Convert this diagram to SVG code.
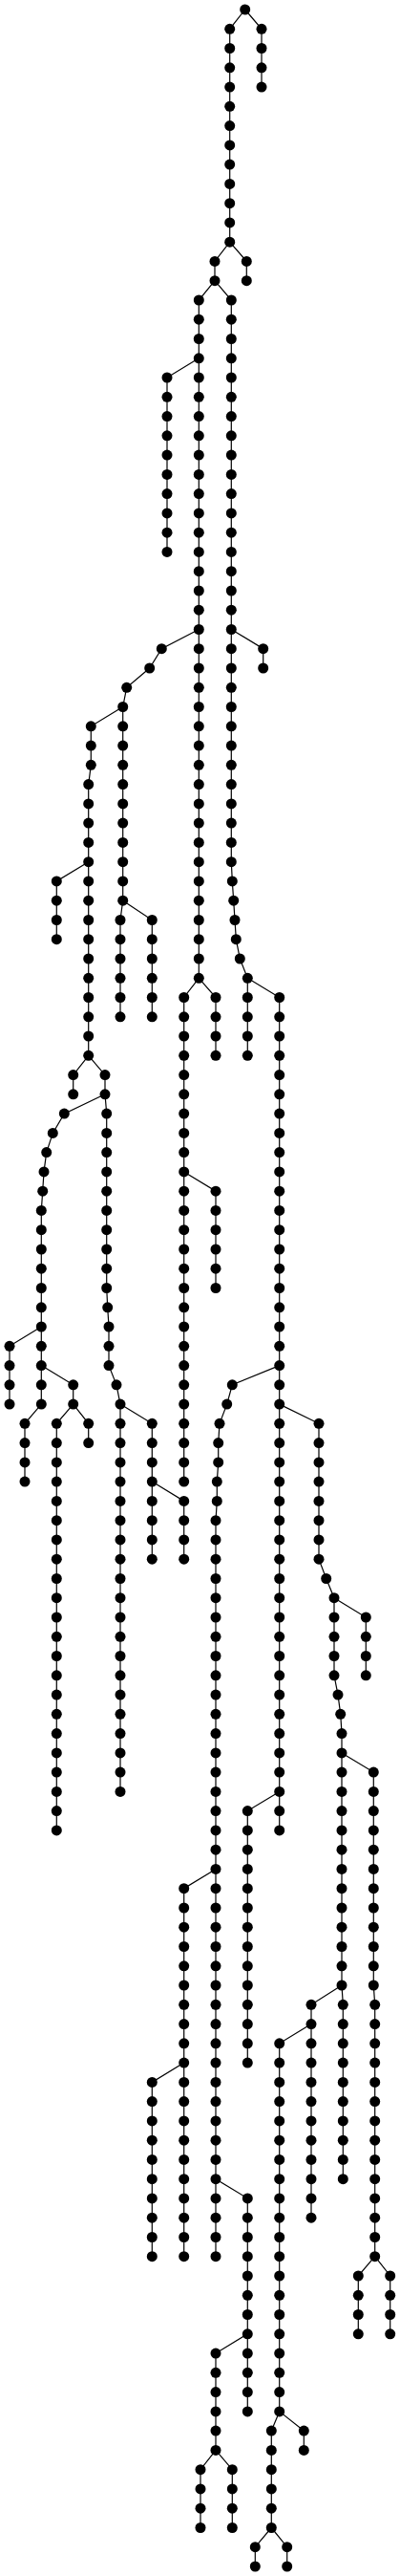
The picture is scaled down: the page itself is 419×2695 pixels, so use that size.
<svg xmlns="http://www.w3.org/2000/svg" width="419" height="2695" viewBox="0 0 419 2695">
<style>
.bg{fill:#fff}
.edges polyline{fill:none;stroke:#000;stroke-width:1.2}
circle{fill:#000}
</style>
<rect class="bg" x="0" y="0" width="419" height="2695"/>
<g class="edges" id="connectors">
<polyline points="256.7,10 240.7,30.3 240.7,253.2"/>
<polyline points="256.7,10 274,30.3 274,91.1"/>
<polyline points="240.7,253.2 225,273.4 225,293.7"/>
<polyline points="240.7,253.2 258.3,273.4 258.3,293.7"/>
<polyline points="225,293.7 208.3,314 208.3,1023.3"/>
<polyline points="225,293.7 242.3,314 242.3,901.7 243.3,921.9 244.7,942.2 246,962.5 247.3,982.7 251.3,1003 259.3,1023.3"/>
<polyline points="208.3,374.8 175,395 175,577.4"/>
<polyline points="208.3,658.5 169.3,678.7 156.7,699 132.7,719.3 128.7,739.5"/>
<polyline points="242.3,658.5 275.7,678.7 275.7,699"/>
<polyline points="128.7,739.5 95.3,759.8 95.3,800.3 92.7,820.6 92.7,1104.3"/>
<polyline points="128.7,739.5 128.7,942.2"/>
<polyline points="92.7,901.7 59.3,921.9 59.3,982.7"/>
<polyline points="128.7,942.2 126,962.5 126,1063.8"/>
<polyline points="128.7,942.2 159.3,962.5 159.3,1063.8"/>
<polyline points="208.3,1023.3 192.7,1043.5 192.7,1550.1"/>
<polyline points="208.3,1023.3 226,1043.5 226,1104.3"/>
<polyline points="259.3,1023.3 259.3,1104.3"/>
<polyline points="259.3,1023.3 292.7,1043.5 292.7,1914.9"/>
<polyline points="92.7,1104.3 76.7,1124.6 76.7,1144.8"/>
<polyline points="92.7,1104.3 110,1124.6 110,1144.8 111.7,1165.1 111.7,1347.5 112.7,1367.8 114,1388 114,1428.6 122,1448.8 126,1469.1"/>
<polyline points="110,1144.8 67.3,1165.1 55.3,1185.4 48.7,1205.6 46,1225.9 44.7,1246.2 43.3,1266.4 43.3,1469.1 26,1489.3 26,1550.1"/>
<polyline points="43.3,1388 10,1408.3 10,1469.1"/>
<polyline points="43.3,1428.6 76.7,1448.8 76.7,1469.1"/>
<polyline points="76.7,1469.1 59.3,1489.3 59.3,1914.9"/>
<polyline points="76.7,1469.1 92.7,1489.3 92.7,1509.6"/>
<polyline points="192.7,1225.9 226,1246.2 226,1347.5"/>
<polyline points="126,1469.1 126,1874.4"/>
<polyline points="126,1469.1 159.3,1489.3 159.3,1631.2"/>
<polyline points="159.3,1550.1 192.7,1570.4 192.7,1631.2"/>
<polyline points="292.7,1428.6 243.3,1448.8 237.7,1469.1 230,1489.3 228.7,1509.6 228.7,1529.9 227.3,1550.1 227.3,1570.4 226,1590.7 226,2360.7"/>
<polyline points="292.7,1469.1 334,1489.3 334,1631.2 341.7,1651.5 350,1671.7 350,1752.8 354,1773.1 356.7,1793.3 358,1813.6 358,2077 359.3,2097.3 359.3,2279.7"/>
<polyline points="350,1671.7 383.3,1692 383.3,1752.8"/>
<polyline points="358,1833.9 391.3,1854.1 391.3,2077 392.7,2097.3 392.7,2360.7"/>
<polyline points="292.7,1874.4 259.3,1894.6 259.3,2158.1"/>
<polyline points="226,1955.4 192.7,1975.7 192.7,2360.7"/>
<polyline points="192.7,2158.1 159.3,2178.4 159.3,2360.7"/>
<polyline points="226,2279.7 259.3,2299.9 259.3,2522.9"/>
<polyline points="259.3,2441.8 226,2462.1 226,2563.4"/>
<polyline points="226,2563.4 210,2583.7 210,2644.5"/>
<polyline points="226,2563.4 243.3,2583.7 243.3,2644.5"/>
<polyline points="358,2077 326,2097.3 326,2320.2"/>
<polyline points="326,2117.6 292.7,2137.8 292.7,2522.9"/>
<polyline points="292.7,2522.9 284.3,2543.1 284.3,2644.5"/>
<polyline points="292.7,2522.9 318.3,2543.1 318.3,2563.4"/>
<polyline points="284.3,2644.5 267.3,2664.7 267.3,2685"/>
<polyline points="284.3,2644.5 300.7,2664.7 300.7,2685"/>
<polyline points="392.7,2360.7 375.3,2381 375.3,2441.8"/>
<polyline points="392.7,2360.7 408.7,2381 408.7,2441.8"/>
</g>
<g id="nodes">
<g id="root"><circle cx="256.7" cy="10" r="5.5"/></g>
<g id="a1"><circle cx="240.7" cy="30.3" r="5.5"/></g>
<g id="a2"><circle cx="240.7" cy="50.5" r="5.5"/></g>
<g id="a3"><circle cx="240.7" cy="70.8" r="5.5"/></g>
<g id="a4"><circle cx="240.7" cy="91.1" r="5.5"/></g>
<g id="a5"><circle cx="240.7" cy="111.3" r="5.5"/></g>
<g id="a6"><circle cx="240.7" cy="131.6" r="5.5"/></g>
<g id="a7"><circle cx="240.7" cy="151.9" r="5.5"/></g>
<g id="a8"><circle cx="240.7" cy="172.1" r="5.5"/></g>
<g id="a9"><circle cx="240.7" cy="192.4" r="5.5"/></g>
<g id="a10"><circle cx="240.7" cy="212.7" r="5.5"/></g>
<g id="a11"><circle cx="240.7" cy="232.9" r="5.5"/></g>
<g id="a12"><circle cx="240.7" cy="253.2" r="5.5"/></g>
<g id="b1"><circle cx="274" cy="30.3" r="5.5"/></g>
<g id="b2"><circle cx="274" cy="50.5" r="5.5"/></g>
<g id="b3"><circle cx="274" cy="70.8" r="5.5"/></g>
<g id="b4"><circle cx="274" cy="91.1" r="5.5"/></g>
<g id="c13"><circle cx="225" cy="273.4" r="5.5"/></g>
<g id="c14"><circle cx="225" cy="293.7" r="5.5"/></g>
<g id="d13"><circle cx="258.3" cy="273.4" r="5.5"/></g>
<g id="d14"><circle cx="258.3" cy="293.7" r="5.5"/></g>
<g id="e15"><circle cx="208.3" cy="314" r="5.5"/></g>
<g id="e16"><circle cx="208.3" cy="334.2" r="5.5"/></g>
<g id="e17"><circle cx="208.3" cy="354.5" r="5.5"/></g>
<g id="e18"><circle cx="208.3" cy="374.8" r="5.5"/></g>
<g id="e19"><circle cx="208.3" cy="395" r="5.5"/></g>
<g id="e20"><circle cx="208.3" cy="415.3" r="5.5"/></g>
<g id="e21"><circle cx="208.3" cy="435.6" r="5.5"/></g>
<g id="e22"><circle cx="208.3" cy="455.8" r="5.5"/></g>
<g id="e23"><circle cx="208.3" cy="476.1" r="5.5"/></g>
<g id="e24"><circle cx="208.3" cy="496.4" r="5.5"/></g>
<g id="e25"><circle cx="208.3" cy="516.6" r="5.5"/></g>
<g id="e26"><circle cx="208.3" cy="536.9" r="5.5"/></g>
<g id="e27"><circle cx="208.3" cy="557.2" r="5.5"/></g>
<g id="e28"><circle cx="208.3" cy="577.4" r="5.5"/></g>
<g id="e29"><circle cx="208.3" cy="597.7" r="5.5"/></g>
<g id="e30"><circle cx="208.3" cy="618" r="5.5"/></g>
<g id="e31"><circle cx="208.3" cy="638.2" r="5.5"/></g>
<g id="e32"><circle cx="208.3" cy="658.5" r="5.5"/></g>
<g id="e33"><circle cx="208.3" cy="678.7" r="5.5"/></g>
<g id="e34"><circle cx="208.3" cy="699" r="5.5"/></g>
<g id="e35"><circle cx="208.3" cy="719.3" r="5.5"/></g>
<g id="e36"><circle cx="208.3" cy="739.5" r="5.5"/></g>
<g id="e37"><circle cx="208.3" cy="759.8" r="5.5"/></g>
<g id="e38"><circle cx="208.3" cy="780.1" r="5.5"/></g>
<g id="e39"><circle cx="208.3" cy="800.3" r="5.5"/></g>
<g id="e40"><circle cx="208.3" cy="820.6" r="5.5"/></g>
<g id="e41"><circle cx="208.3" cy="840.9" r="5.5"/></g>
<g id="e42"><circle cx="208.3" cy="861.1" r="5.5"/></g>
<g id="e43"><circle cx="208.3" cy="881.4" r="5.5"/></g>
<g id="e44"><circle cx="208.3" cy="901.7" r="5.5"/></g>
<g id="e45"><circle cx="208.3" cy="921.9" r="5.5"/></g>
<g id="e46"><circle cx="208.3" cy="942.2" r="5.5"/></g>
<g id="e47"><circle cx="208.3" cy="962.5" r="5.5"/></g>
<g id="e48"><circle cx="208.3" cy="982.7" r="5.5"/></g>
<g id="e49"><circle cx="208.3" cy="1003" r="5.5"/></g>
<g id="e50"><circle cx="208.3" cy="1023.3" r="5.5"/></g>
<g id="f15"><circle cx="242.3" cy="314" r="5.5"/></g>
<g id="f16"><circle cx="242.3" cy="334.2" r="5.5"/></g>
<g id="f17"><circle cx="242.3" cy="354.5" r="5.5"/></g>
<g id="f18"><circle cx="242.3" cy="374.8" r="5.5"/></g>
<g id="f19"><circle cx="242.3" cy="395" r="5.5"/></g>
<g id="f20"><circle cx="242.3" cy="415.3" r="5.5"/></g>
<g id="f21"><circle cx="242.3" cy="435.6" r="5.5"/></g>
<g id="f22"><circle cx="242.3" cy="455.8" r="5.5"/></g>
<g id="f23"><circle cx="242.3" cy="476.1" r="5.5"/></g>
<g id="f24"><circle cx="242.3" cy="496.4" r="5.5"/></g>
<g id="f25"><circle cx="242.3" cy="516.6" r="5.5"/></g>
<g id="f26"><circle cx="242.3" cy="536.9" r="5.5"/></g>
<g id="f27"><circle cx="242.3" cy="557.2" r="5.5"/></g>
<g id="f28"><circle cx="242.3" cy="577.4" r="5.5"/></g>
<g id="f29"><circle cx="242.3" cy="597.7" r="5.5"/></g>
<g id="f30"><circle cx="242.3" cy="618" r="5.5"/></g>
<g id="f31"><circle cx="242.3" cy="638.2" r="5.5"/></g>
<g id="f32"><circle cx="242.3" cy="658.5" r="5.5"/></g>
<g id="f33"><circle cx="242.3" cy="678.7" r="5.5"/></g>
<g id="f34"><circle cx="242.3" cy="699" r="5.5"/></g>
<g id="f35"><circle cx="242.3" cy="719.3" r="5.5"/></g>
<g id="f36"><circle cx="242.3" cy="739.5" r="5.5"/></g>
<g id="f37"><circle cx="242.3" cy="759.8" r="5.5"/></g>
<g id="f38"><circle cx="242.3" cy="780.1" r="5.5"/></g>
<g id="f39"><circle cx="242.3" cy="800.3" r="5.5"/></g>
<g id="f40"><circle cx="242.3" cy="820.6" r="5.5"/></g>
<g id="f41"><circle cx="242.3" cy="840.9" r="5.5"/></g>
<g id="f42"><circle cx="242.3" cy="861.1" r="5.5"/></g>
<g id="f43"><circle cx="242.3" cy="881.4" r="5.5"/></g>
<g id="f44"><circle cx="242.3" cy="901.7" r="5.5"/></g>
<g id="f45"><circle cx="243.3" cy="921.9" r="5.5"/></g>
<g id="f46"><circle cx="244.7" cy="942.2" r="5.5"/></g>
<g id="f47"><circle cx="246" cy="962.5" r="5.5"/></g>
<g id="f48"><circle cx="247.3" cy="982.7" r="5.5"/></g>
<g id="f49"><circle cx="251.3" cy="1003" r="5.5"/></g>
<g id="f50"><circle cx="259.3" cy="1023.3" r="5.5"/></g>
<g id="g19"><circle cx="175" cy="395" r="5.5"/></g>
<g id="g20"><circle cx="175" cy="415.3" r="5.5"/></g>
<g id="g21"><circle cx="175" cy="435.6" r="5.5"/></g>
<g id="g22"><circle cx="175" cy="455.8" r="5.5"/></g>
<g id="g23"><circle cx="175" cy="476.1" r="5.5"/></g>
<g id="g24"><circle cx="175" cy="496.4" r="5.5"/></g>
<g id="g25"><circle cx="175" cy="516.6" r="5.5"/></g>
<g id="g26"><circle cx="175" cy="536.9" r="5.5"/></g>
<g id="g27"><circle cx="175" cy="557.2" r="5.5"/></g>
<g id="g28"><circle cx="175" cy="577.4" r="5.5"/></g>
<g id="h33"><circle cx="169.3" cy="678.7" r="5.5"/></g>
<g id="h34"><circle cx="156.7" cy="699" r="5.5"/></g>
<g id="h35"><circle cx="132.7" cy="719.3" r="5.5"/></g>
<g id="h36"><circle cx="128.7" cy="739.5" r="5.5"/></g>
<g id="i33"><circle cx="275.7" cy="678.7" r="5.5"/></g>
<g id="i34"><circle cx="275.7" cy="699" r="5.5"/></g>
<g id="j37"><circle cx="95.3" cy="759.8" r="5.5"/></g>
<g id="j38"><circle cx="95.3" cy="780.1" r="5.5"/></g>
<g id="j39"><circle cx="95.3" cy="800.3" r="5.5"/></g>
<g id="j40"><circle cx="92.7" cy="820.6" r="5.5"/></g>
<g id="j41"><circle cx="92.7" cy="840.9" r="5.5"/></g>
<g id="j42"><circle cx="92.7" cy="861.1" r="5.5"/></g>
<g id="j43"><circle cx="92.7" cy="881.4" r="5.5"/></g>
<g id="j44"><circle cx="92.7" cy="901.7" r="5.5"/></g>
<g id="j45"><circle cx="92.7" cy="921.9" r="5.5"/></g>
<g id="j46"><circle cx="92.7" cy="942.2" r="5.5"/></g>
<g id="j47"><circle cx="92.7" cy="962.5" r="5.5"/></g>
<g id="j48"><circle cx="92.7" cy="982.7" r="5.5"/></g>
<g id="j49"><circle cx="92.7" cy="1003" r="5.5"/></g>
<g id="j50"><circle cx="92.7" cy="1023.3" r="5.5"/></g>
<g id="j51"><circle cx="92.7" cy="1043.5" r="5.5"/></g>
<g id="j52"><circle cx="92.7" cy="1063.8" r="5.5"/></g>
<g id="j53"><circle cx="92.7" cy="1084" r="5.5"/></g>
<g id="j54"><circle cx="92.7" cy="1104.3" r="5.5"/></g>
<g id="k37"><circle cx="128.7" cy="759.8" r="5.5"/></g>
<g id="k38"><circle cx="128.7" cy="780.1" r="5.5"/></g>
<g id="k39"><circle cx="128.7" cy="800.3" r="5.5"/></g>
<g id="k40"><circle cx="128.7" cy="820.6" r="5.5"/></g>
<g id="k41"><circle cx="128.7" cy="840.9" r="5.5"/></g>
<g id="k42"><circle cx="128.7" cy="861.1" r="5.5"/></g>
<g id="k43"><circle cx="128.7" cy="881.4" r="5.5"/></g>
<g id="k44"><circle cx="128.7" cy="901.7" r="5.5"/></g>
<g id="k45"><circle cx="128.7" cy="921.9" r="5.5"/></g>
<g id="k46"><circle cx="128.7" cy="942.2" r="5.5"/></g>
<g id="l45"><circle cx="59.3" cy="921.9" r="5.5"/></g>
<g id="l46"><circle cx="59.3" cy="942.2" r="5.5"/></g>
<g id="l47"><circle cx="59.3" cy="962.5" r="5.5"/></g>
<g id="l48"><circle cx="59.3" cy="982.7" r="5.5"/></g>
<g id="ka47"><circle cx="126" cy="962.5" r="5.5"/></g>
<g id="ka48"><circle cx="126" cy="982.7" r="5.5"/></g>
<g id="ka49"><circle cx="126" cy="1003" r="5.5"/></g>
<g id="ka50"><circle cx="126" cy="1023.3" r="5.5"/></g>
<g id="ka51"><circle cx="126" cy="1043.5" r="5.5"/></g>
<g id="ka52"><circle cx="126" cy="1063.8" r="5.5"/></g>
<g id="kb47"><circle cx="159.3" cy="962.5" r="5.5"/></g>
<g id="kb48"><circle cx="159.3" cy="982.7" r="5.5"/></g>
<g id="kb49"><circle cx="159.3" cy="1003" r="5.5"/></g>
<g id="kb50"><circle cx="159.3" cy="1023.3" r="5.5"/></g>
<g id="kb51"><circle cx="159.3" cy="1043.5" r="5.5"/></g>
<g id="kb52"><circle cx="159.3" cy="1063.8" r="5.5"/></g>
<g id="m51"><circle cx="192.7" cy="1043.5" r="5.5"/></g>
<g id="m52"><circle cx="192.7" cy="1063.8" r="5.5"/></g>
<g id="m53"><circle cx="192.7" cy="1084" r="5.5"/></g>
<g id="m54"><circle cx="192.7" cy="1104.3" r="5.5"/></g>
<g id="m55"><circle cx="192.7" cy="1124.6" r="5.5"/></g>
<g id="m56"><circle cx="192.7" cy="1144.8" r="5.5"/></g>
<g id="m57"><circle cx="192.7" cy="1165.1" r="5.5"/></g>
<g id="m58"><circle cx="192.7" cy="1185.4" r="5.5"/></g>
<g id="m59"><circle cx="192.7" cy="1205.6" r="5.5"/></g>
<g id="m60"><circle cx="192.7" cy="1225.9" r="5.5"/></g>
<g id="m61"><circle cx="192.7" cy="1246.2" r="5.5"/></g>
<g id="m62"><circle cx="192.7" cy="1266.4" r="5.5"/></g>
<g id="m63"><circle cx="192.7" cy="1286.7" r="5.5"/></g>
<g id="m64"><circle cx="192.7" cy="1307" r="5.5"/></g>
<g id="m65"><circle cx="192.7" cy="1327.2" r="5.5"/></g>
<g id="m66"><circle cx="192.7" cy="1347.5" r="5.5"/></g>
<g id="m67"><circle cx="192.7" cy="1367.8" r="5.5"/></g>
<g id="m68"><circle cx="192.7" cy="1388" r="5.5"/></g>
<g id="m69"><circle cx="192.7" cy="1408.3" r="5.5"/></g>
<g id="m70"><circle cx="192.7" cy="1428.6" r="5.5"/></g>
<g id="m71"><circle cx="192.7" cy="1448.8" r="5.5"/></g>
<g id="m72"><circle cx="192.7" cy="1469.1" r="5.5"/></g>
<g id="m73"><circle cx="192.7" cy="1489.3" r="5.5"/></g>
<g id="m74"><circle cx="192.7" cy="1509.6" r="5.5"/></g>
<g id="m75"><circle cx="192.7" cy="1529.9" r="5.5"/></g>
<g id="m76"><circle cx="192.7" cy="1550.1" r="5.5"/></g>
<g id="n51"><circle cx="226" cy="1043.5" r="5.5"/></g>
<g id="n52"><circle cx="226" cy="1063.8" r="5.5"/></g>
<g id="n53"><circle cx="226" cy="1084" r="5.5"/></g>
<g id="n54"><circle cx="226" cy="1104.3" r="5.5"/></g>
<g id="o51"><circle cx="259.3" cy="1043.5" r="5.5"/></g>
<g id="o52"><circle cx="259.3" cy="1063.8" r="5.5"/></g>
<g id="o53"><circle cx="259.3" cy="1084" r="5.5"/></g>
<g id="o54"><circle cx="259.3" cy="1104.3" r="5.5"/></g>
<g id="p51"><circle cx="292.7" cy="1043.5" r="5.5"/></g>
<g id="p52"><circle cx="292.7" cy="1063.8" r="5.5"/></g>
<g id="p53"><circle cx="292.7" cy="1084" r="5.5"/></g>
<g id="p54"><circle cx="292.7" cy="1104.3" r="5.5"/></g>
<g id="p55"><circle cx="292.7" cy="1124.6" r="5.5"/></g>
<g id="p56"><circle cx="292.7" cy="1144.8" r="5.5"/></g>
<g id="p57"><circle cx="292.7" cy="1165.1" r="5.5"/></g>
<g id="p58"><circle cx="292.7" cy="1185.4" r="5.5"/></g>
<g id="p59"><circle cx="292.7" cy="1205.6" r="5.5"/></g>
<g id="p60"><circle cx="292.7" cy="1225.9" r="5.5"/></g>
<g id="p61"><circle cx="292.7" cy="1246.2" r="5.5"/></g>
<g id="p62"><circle cx="292.7" cy="1266.4" r="5.5"/></g>
<g id="p63"><circle cx="292.7" cy="1286.7" r="5.5"/></g>
<g id="p64"><circle cx="292.7" cy="1307" r="5.5"/></g>
<g id="p65"><circle cx="292.7" cy="1327.2" r="5.5"/></g>
<g id="p66"><circle cx="292.7" cy="1347.5" r="5.5"/></g>
<g id="p67"><circle cx="292.7" cy="1367.8" r="5.5"/></g>
<g id="p68"><circle cx="292.7" cy="1388" r="5.5"/></g>
<g id="p69"><circle cx="292.7" cy="1408.3" r="5.5"/></g>
<g id="p70"><circle cx="292.7" cy="1428.6" r="5.5"/></g>
<g id="p71"><circle cx="292.7" cy="1448.8" r="5.5"/></g>
<g id="p72"><circle cx="292.7" cy="1469.1" r="5.5"/></g>
<g id="p73"><circle cx="292.7" cy="1489.3" r="5.5"/></g>
<g id="p74"><circle cx="292.7" cy="1509.6" r="5.5"/></g>
<g id="p75"><circle cx="292.7" cy="1529.9" r="5.5"/></g>
<g id="p76"><circle cx="292.7" cy="1550.1" r="5.5"/></g>
<g id="p77"><circle cx="292.7" cy="1570.4" r="5.5"/></g>
<g id="p78"><circle cx="292.7" cy="1590.7" r="5.5"/></g>
<g id="p79"><circle cx="292.7" cy="1610.9" r="5.5"/></g>
<g id="p80"><circle cx="292.7" cy="1631.2" r="5.5"/></g>
<g id="p81"><circle cx="292.7" cy="1651.5" r="5.5"/></g>
<g id="p82"><circle cx="292.7" cy="1671.7" r="5.5"/></g>
<g id="p83"><circle cx="292.7" cy="1692" r="5.5"/></g>
<g id="p84"><circle cx="292.7" cy="1712.3" r="5.5"/></g>
<g id="p85"><circle cx="292.7" cy="1732.5" r="5.5"/></g>
<g id="p86"><circle cx="292.7" cy="1752.8" r="5.5"/></g>
<g id="p87"><circle cx="292.7" cy="1773.1" r="5.5"/></g>
<g id="p88"><circle cx="292.7" cy="1793.3" r="5.5"/></g>
<g id="p89"><circle cx="292.7" cy="1813.6" r="5.5"/></g>
<g id="p90"><circle cx="292.7" cy="1833.9" r="5.5"/></g>
<g id="p91"><circle cx="292.7" cy="1854.1" r="5.5"/></g>
<g id="p92"><circle cx="292.7" cy="1874.4" r="5.5"/></g>
<g id="p93"><circle cx="292.7" cy="1894.6" r="5.5"/></g>
<g id="p94"><circle cx="292.7" cy="1914.9" r="5.5"/></g>
<g id="q55"><circle cx="76.7" cy="1124.6" r="5.5"/></g>
<g id="q56"><circle cx="76.7" cy="1144.8" r="5.5"/></g>
<g id="s55"><circle cx="110" cy="1124.6" r="5.5"/></g>
<g id="s56"><circle cx="110" cy="1144.8" r="5.5"/></g>
<g id="s57"><circle cx="111.7" cy="1165.1" r="5.5"/></g>
<g id="s58"><circle cx="111.7" cy="1185.4" r="5.5"/></g>
<g id="s59"><circle cx="111.7" cy="1205.6" r="5.5"/></g>
<g id="s60"><circle cx="111.7" cy="1225.9" r="5.5"/></g>
<g id="s61"><circle cx="111.7" cy="1246.2" r="5.5"/></g>
<g id="s62"><circle cx="111.7" cy="1266.4" r="5.5"/></g>
<g id="s63"><circle cx="111.7" cy="1286.7" r="5.5"/></g>
<g id="s64"><circle cx="111.7" cy="1307" r="5.5"/></g>
<g id="s65"><circle cx="111.7" cy="1327.2" r="5.5"/></g>
<g id="s66"><circle cx="111.7" cy="1347.5" r="5.5"/></g>
<g id="s67"><circle cx="112.7" cy="1367.8" r="5.5"/></g>
<g id="s68"><circle cx="114" cy="1388" r="5.5"/></g>
<g id="s69"><circle cx="114" cy="1408.3" r="5.5"/></g>
<g id="s70"><circle cx="114" cy="1428.6" r="5.5"/></g>
<g id="s71"><circle cx="122" cy="1448.8" r="5.5"/></g>
<g id="s72"><circle cx="126" cy="1469.1" r="5.5"/></g>
<g id="r57"><circle cx="67.3" cy="1165.1" r="5.5"/></g>
<g id="r58"><circle cx="55.3" cy="1185.4" r="5.5"/></g>
<g id="r59"><circle cx="48.7" cy="1205.6" r="5.5"/></g>
<g id="r60"><circle cx="46" cy="1225.9" r="5.5"/></g>
<g id="r61"><circle cx="44.7" cy="1246.2" r="5.5"/></g>
<g id="r62"><circle cx="43.3" cy="1266.4" r="5.5"/></g>
<g id="r63"><circle cx="43.3" cy="1286.7" r="5.5"/></g>
<g id="r64"><circle cx="43.3" cy="1307" r="5.5"/></g>
<g id="r65"><circle cx="43.3" cy="1327.2" r="5.5"/></g>
<g id="r66"><circle cx="43.3" cy="1347.5" r="5.5"/></g>
<g id="r67"><circle cx="43.3" cy="1367.8" r="5.5"/></g>
<g id="r68"><circle cx="43.3" cy="1388" r="5.5"/></g>
<g id="r69"><circle cx="43.3" cy="1408.3" r="5.5"/></g>
<g id="r70"><circle cx="43.3" cy="1428.6" r="5.5"/></g>
<g id="r71"><circle cx="43.3" cy="1448.8" r="5.5"/></g>
<g id="r72"><circle cx="43.3" cy="1469.1" r="5.5"/></g>
<g id="r73"><circle cx="26" cy="1489.3" r="5.5"/></g>
<g id="r74"><circle cx="26" cy="1509.6" r="5.5"/></g>
<g id="r75"><circle cx="26" cy="1529.9" r="5.5"/></g>
<g id="r76"><circle cx="26" cy="1550.1" r="5.5"/></g>
<g id="u69"><circle cx="10" cy="1408.3" r="5.5"/></g>
<g id="u70"><circle cx="10" cy="1428.6" r="5.5"/></g>
<g id="u71"><circle cx="10" cy="1448.8" r="5.5"/></g>
<g id="u72"><circle cx="10" cy="1469.1" r="5.5"/></g>
<g id="v71"><circle cx="76.7" cy="1448.8" r="5.5"/></g>
<g id="v72"><circle cx="76.7" cy="1469.1" r="5.5"/></g>
<g id="w73"><circle cx="59.3" cy="1489.3" r="5.5"/></g>
<g id="w74"><circle cx="59.3" cy="1509.6" r="5.5"/></g>
<g id="w75"><circle cx="59.3" cy="1529.9" r="5.5"/></g>
<g id="w76"><circle cx="59.3" cy="1550.1" r="5.5"/></g>
<g id="w77"><circle cx="59.3" cy="1570.4" r="5.5"/></g>
<g id="w78"><circle cx="59.3" cy="1590.7" r="5.5"/></g>
<g id="w79"><circle cx="59.3" cy="1610.9" r="5.5"/></g>
<g id="w80"><circle cx="59.3" cy="1631.2" r="5.5"/></g>
<g id="w81"><circle cx="59.3" cy="1651.5" r="5.5"/></g>
<g id="w82"><circle cx="59.3" cy="1671.7" r="5.5"/></g>
<g id="w83"><circle cx="59.3" cy="1692" r="5.5"/></g>
<g id="w84"><circle cx="59.3" cy="1712.3" r="5.5"/></g>
<g id="w85"><circle cx="59.3" cy="1732.5" r="5.5"/></g>
<g id="w86"><circle cx="59.3" cy="1752.8" r="5.5"/></g>
<g id="w87"><circle cx="59.3" cy="1773.1" r="5.5"/></g>
<g id="w88"><circle cx="59.3" cy="1793.3" r="5.5"/></g>
<g id="w89"><circle cx="59.3" cy="1813.6" r="5.5"/></g>
<g id="w90"><circle cx="59.3" cy="1833.9" r="5.5"/></g>
<g id="w91"><circle cx="59.3" cy="1854.1" r="5.5"/></g>
<g id="w92"><circle cx="59.3" cy="1874.4" r="5.5"/></g>
<g id="w93"><circle cx="59.3" cy="1894.6" r="5.5"/></g>
<g id="w94"><circle cx="59.3" cy="1914.9" r="5.5"/></g>
<g id="x73"><circle cx="92.7" cy="1489.3" r="5.5"/></g>
<g id="x74"><circle cx="92.7" cy="1509.6" r="5.5"/></g>
<g id="t61"><circle cx="226" cy="1246.2" r="5.5"/></g>
<g id="t62"><circle cx="226" cy="1266.4" r="5.5"/></g>
<g id="t63"><circle cx="226" cy="1286.7" r="5.5"/></g>
<g id="t64"><circle cx="226" cy="1307" r="5.5"/></g>
<g id="t65"><circle cx="226" cy="1327.2" r="5.5"/></g>
<g id="t66"><circle cx="226" cy="1347.5" r="5.5"/></g>
<g id="y73"><circle cx="126" cy="1489.3" r="5.5"/></g>
<g id="y74"><circle cx="126" cy="1509.6" r="5.5"/></g>
<g id="y75"><circle cx="126" cy="1529.9" r="5.5"/></g>
<g id="y76"><circle cx="126" cy="1550.1" r="5.5"/></g>
<g id="y77"><circle cx="126" cy="1570.4" r="5.5"/></g>
<g id="y78"><circle cx="126" cy="1590.7" r="5.5"/></g>
<g id="y79"><circle cx="126" cy="1610.9" r="5.5"/></g>
<g id="y80"><circle cx="126" cy="1631.2" r="5.5"/></g>
<g id="y81"><circle cx="126" cy="1651.5" r="5.5"/></g>
<g id="y82"><circle cx="126" cy="1671.7" r="5.5"/></g>
<g id="y83"><circle cx="126" cy="1692" r="5.5"/></g>
<g id="y84"><circle cx="126" cy="1712.3" r="5.5"/></g>
<g id="y85"><circle cx="126" cy="1732.5" r="5.5"/></g>
<g id="y86"><circle cx="126" cy="1752.8" r="5.5"/></g>
<g id="y87"><circle cx="126" cy="1773.1" r="5.5"/></g>
<g id="y88"><circle cx="126" cy="1793.3" r="5.5"/></g>
<g id="y89"><circle cx="126" cy="1813.6" r="5.5"/></g>
<g id="y90"><circle cx="126" cy="1833.9" r="5.5"/></g>
<g id="y91"><circle cx="126" cy="1854.1" r="5.5"/></g>
<g id="y92"><circle cx="126" cy="1874.4" r="5.5"/></g>
<g id="z73"><circle cx="159.3" cy="1489.3" r="5.5"/></g>
<g id="z74"><circle cx="159.3" cy="1509.6" r="5.5"/></g>
<g id="z75"><circle cx="159.3" cy="1529.9" r="5.5"/></g>
<g id="z76"><circle cx="159.3" cy="1550.1" r="5.5"/></g>
<g id="z77"><circle cx="159.3" cy="1570.4" r="5.5"/></g>
<g id="z78"><circle cx="159.3" cy="1590.7" r="5.5"/></g>
<g id="z79"><circle cx="159.3" cy="1610.9" r="5.5"/></g>
<g id="z80"><circle cx="159.3" cy="1631.2" r="5.5"/></g>
<g id="aa77"><circle cx="192.7" cy="1570.4" r="5.5"/></g>
<g id="aa78"><circle cx="192.7" cy="1590.7" r="5.5"/></g>
<g id="aa79"><circle cx="192.7" cy="1610.9" r="5.5"/></g>
<g id="aa80"><circle cx="192.7" cy="1631.2" r="5.5"/></g>
<g id="bb71"><circle cx="243.3" cy="1448.8" r="5.5"/></g>
<g id="bb72"><circle cx="237.7" cy="1469.1" r="5.5"/></g>
<g id="bb73"><circle cx="230" cy="1489.3" r="5.5"/></g>
<g id="bb74"><circle cx="228.7" cy="1509.6" r="5.5"/></g>
<g id="bb75"><circle cx="228.7" cy="1529.9" r="5.5"/></g>
<g id="bb76"><circle cx="227.3" cy="1550.1" r="5.5"/></g>
<g id="bb77"><circle cx="227.3" cy="1570.4" r="5.5"/></g>
<g id="bb78"><circle cx="226" cy="1590.7" r="5.5"/></g>
<g id="bb79"><circle cx="226" cy="1610.9" r="5.5"/></g>
<g id="bb80"><circle cx="226" cy="1631.2" r="5.5"/></g>
<g id="bb81"><circle cx="226" cy="1651.5" r="5.5"/></g>
<g id="bb82"><circle cx="226" cy="1671.7" r="5.5"/></g>
<g id="bb83"><circle cx="226" cy="1692" r="5.5"/></g>
<g id="bb84"><circle cx="226" cy="1712.3" r="5.5"/></g>
<g id="bb85"><circle cx="226" cy="1732.5" r="5.5"/></g>
<g id="bb86"><circle cx="226" cy="1752.8" r="5.5"/></g>
<g id="bb87"><circle cx="226" cy="1773.1" r="5.5"/></g>
<g id="bb88"><circle cx="226" cy="1793.3" r="5.5"/></g>
<g id="bb89"><circle cx="226" cy="1813.6" r="5.5"/></g>
<g id="bb90"><circle cx="226" cy="1833.9" r="5.5"/></g>
<g id="bb91"><circle cx="226" cy="1854.1" r="5.5"/></g>
<g id="bb92"><circle cx="226" cy="1874.4" r="5.5"/></g>
<g id="bb93"><circle cx="226" cy="1894.6" r="5.5"/></g>
<g id="bb94"><circle cx="226" cy="1914.9" r="5.5"/></g>
<g id="bb95"><circle cx="226" cy="1935.2" r="5.5"/></g>
<g id="bb96"><circle cx="226" cy="1955.4" r="5.5"/></g>
<g id="bb97"><circle cx="226" cy="1975.7" r="5.5"/></g>
<g id="bb98"><circle cx="226" cy="1996" r="5.5"/></g>
<g id="bb99"><circle cx="226" cy="2016.2" r="5.5"/></g>
<g id="bb100"><circle cx="226" cy="2036.5" r="5.5"/></g>
<g id="bb101"><circle cx="226" cy="2056.8" r="5.5"/></g>
<g id="bb102"><circle cx="226" cy="2077" r="5.5"/></g>
<g id="bb103"><circle cx="226" cy="2097.3" r="5.5"/></g>
<g id="bb104"><circle cx="226" cy="2117.6" r="5.5"/></g>
<g id="bb105"><circle cx="226" cy="2137.8" r="5.5"/></g>
<g id="bb106"><circle cx="226" cy="2158.1" r="5.5"/></g>
<g id="bb107"><circle cx="226" cy="2178.4" r="5.5"/></g>
<g id="bb108"><circle cx="226" cy="2198.6" r="5.5"/></g>
<g id="bb109"><circle cx="226" cy="2218.9" r="5.5"/></g>
<g id="bb110"><circle cx="226" cy="2239.2" r="5.5"/></g>
<g id="bb111"><circle cx="226" cy="2259.4" r="5.5"/></g>
<g id="bb112"><circle cx="226" cy="2279.7" r="5.5"/></g>
<g id="bb113"><circle cx="226" cy="2299.9" r="5.5"/></g>
<g id="bb114"><circle cx="226" cy="2320.2" r="5.5"/></g>
<g id="bb115"><circle cx="226" cy="2340.5" r="5.5"/></g>
<g id="bb116"><circle cx="226" cy="2360.7" r="5.5"/></g>
<g id="cc73"><circle cx="334" cy="1489.3" r="5.5"/></g>
<g id="cc74"><circle cx="334" cy="1509.6" r="5.5"/></g>
<g id="cc75"><circle cx="334" cy="1529.9" r="5.5"/></g>
<g id="cc76"><circle cx="334" cy="1550.1" r="5.5"/></g>
<g id="cc77"><circle cx="334" cy="1570.4" r="5.5"/></g>
<g id="cc78"><circle cx="334" cy="1590.7" r="5.5"/></g>
<g id="cc79"><circle cx="334" cy="1610.9" r="5.5"/></g>
<g id="cc80"><circle cx="334" cy="1631.2" r="5.5"/></g>
<g id="cc81"><circle cx="341.7" cy="1651.5" r="5.5"/></g>
<g id="cc82"><circle cx="350" cy="1671.7" r="5.5"/></g>
<g id="cc83"><circle cx="350" cy="1692" r="5.5"/></g>
<g id="cc84"><circle cx="350" cy="1712.3" r="5.5"/></g>
<g id="cc85"><circle cx="350" cy="1732.5" r="5.5"/></g>
<g id="cc86"><circle cx="350" cy="1752.8" r="5.5"/></g>
<g id="cc87"><circle cx="354" cy="1773.1" r="5.5"/></g>
<g id="cc88"><circle cx="356.7" cy="1793.3" r="5.5"/></g>
<g id="cc89"><circle cx="358" cy="1813.6" r="5.5"/></g>
<g id="cc90"><circle cx="358" cy="1833.9" r="5.5"/></g>
<g id="cc91"><circle cx="358" cy="1854.1" r="5.5"/></g>
<g id="cc92"><circle cx="358" cy="1874.4" r="5.5"/></g>
<g id="cc93"><circle cx="358" cy="1894.6" r="5.5"/></g>
<g id="cc94"><circle cx="358" cy="1914.9" r="5.5"/></g>
<g id="cc95"><circle cx="358" cy="1935.2" r="5.5"/></g>
<g id="cc96"><circle cx="358" cy="1955.4" r="5.5"/></g>
<g id="cc97"><circle cx="358" cy="1975.7" r="5.5"/></g>
<g id="cc98"><circle cx="358" cy="1996" r="5.5"/></g>
<g id="cc99"><circle cx="358" cy="2016.2" r="5.5"/></g>
<g id="cc100"><circle cx="358" cy="2036.5" r="5.5"/></g>
<g id="cc101"><circle cx="358" cy="2056.8" r="5.5"/></g>
<g id="cc102"><circle cx="358" cy="2077" r="5.5"/></g>
<g id="cc103"><circle cx="359.3" cy="2097.3" r="5.5"/></g>
<g id="cc104"><circle cx="359.3" cy="2117.6" r="5.5"/></g>
<g id="cc105"><circle cx="359.3" cy="2137.8" r="5.5"/></g>
<g id="cc106"><circle cx="359.3" cy="2158.1" r="5.5"/></g>
<g id="cc107"><circle cx="359.3" cy="2178.4" r="5.5"/></g>
<g id="cc108"><circle cx="359.3" cy="2198.6" r="5.5"/></g>
<g id="cc109"><circle cx="359.3" cy="2218.9" r="5.5"/></g>
<g id="cc110"><circle cx="359.3" cy="2239.2" r="5.5"/></g>
<g id="cc111"><circle cx="359.3" cy="2259.4" r="5.5"/></g>
<g id="cc112"><circle cx="359.3" cy="2279.7" r="5.5"/></g>
<g id="dd83"><circle cx="383.3" cy="1692" r="5.5"/></g>
<g id="dd84"><circle cx="383.3" cy="1712.3" r="5.5"/></g>
<g id="dd85"><circle cx="383.3" cy="1732.5" r="5.5"/></g>
<g id="dd86"><circle cx="383.3" cy="1752.8" r="5.5"/></g>
<g id="de91"><circle cx="391.3" cy="1854.1" r="5.5"/></g>
<g id="de92"><circle cx="391.3" cy="1874.4" r="5.5"/></g>
<g id="de93"><circle cx="391.3" cy="1894.6" r="5.5"/></g>
<g id="de94"><circle cx="391.3" cy="1914.9" r="5.5"/></g>
<g id="de95"><circle cx="391.3" cy="1935.2" r="5.5"/></g>
<g id="de96"><circle cx="391.3" cy="1955.4" r="5.5"/></g>
<g id="de97"><circle cx="391.3" cy="1975.7" r="5.5"/></g>
<g id="de98"><circle cx="391.3" cy="1996" r="5.5"/></g>
<g id="de99"><circle cx="391.3" cy="2016.2" r="5.5"/></g>
<g id="de100"><circle cx="391.3" cy="2036.5" r="5.5"/></g>
<g id="de101"><circle cx="391.3" cy="2056.8" r="5.5"/></g>
<g id="de102"><circle cx="391.3" cy="2077" r="5.5"/></g>
<g id="de103"><circle cx="392.7" cy="2097.3" r="5.5"/></g>
<g id="de104"><circle cx="392.7" cy="2117.6" r="5.5"/></g>
<g id="de105"><circle cx="392.7" cy="2137.8" r="5.5"/></g>
<g id="de106"><circle cx="392.7" cy="2158.1" r="5.5"/></g>
<g id="de107"><circle cx="392.7" cy="2178.4" r="5.5"/></g>
<g id="de108"><circle cx="392.7" cy="2198.6" r="5.5"/></g>
<g id="de109"><circle cx="392.7" cy="2218.9" r="5.5"/></g>
<g id="de110"><circle cx="392.7" cy="2239.2" r="5.5"/></g>
<g id="de111"><circle cx="392.7" cy="2259.4" r="5.5"/></g>
<g id="de112"><circle cx="392.7" cy="2279.7" r="5.5"/></g>
<g id="de113"><circle cx="392.7" cy="2299.9" r="5.5"/></g>
<g id="de114"><circle cx="392.7" cy="2320.2" r="5.5"/></g>
<g id="de115"><circle cx="392.7" cy="2340.5" r="5.5"/></g>
<g id="de116"><circle cx="392.7" cy="2360.7" r="5.5"/></g>
<g id="ee93"><circle cx="259.3" cy="1894.6" r="5.5"/></g>
<g id="ee94"><circle cx="259.3" cy="1914.9" r="5.5"/></g>
<g id="ee95"><circle cx="259.3" cy="1935.2" r="5.5"/></g>
<g id="ee96"><circle cx="259.3" cy="1955.4" r="5.5"/></g>
<g id="ee97"><circle cx="259.3" cy="1975.7" r="5.5"/></g>
<g id="ee98"><circle cx="259.3" cy="1996" r="5.5"/></g>
<g id="ee99"><circle cx="259.3" cy="2016.2" r="5.5"/></g>
<g id="ee100"><circle cx="259.3" cy="2036.5" r="5.5"/></g>
<g id="ee101"><circle cx="259.3" cy="2056.8" r="5.5"/></g>
<g id="ee102"><circle cx="259.3" cy="2077" r="5.5"/></g>
<g id="ee103"><circle cx="259.3" cy="2097.3" r="5.5"/></g>
<g id="ee104"><circle cx="259.3" cy="2117.6" r="5.5"/></g>
<g id="ee105"><circle cx="259.3" cy="2137.8" r="5.5"/></g>
<g id="ee106"><circle cx="259.3" cy="2158.1" r="5.5"/></g>
<g id="ff97"><circle cx="192.7" cy="1975.7" r="5.5"/></g>
<g id="ff98"><circle cx="192.7" cy="1996" r="5.5"/></g>
<g id="ff99"><circle cx="192.7" cy="2016.2" r="5.5"/></g>
<g id="ff100"><circle cx="192.7" cy="2036.5" r="5.5"/></g>
<g id="ff101"><circle cx="192.7" cy="2056.8" r="5.5"/></g>
<g id="ff102"><circle cx="192.7" cy="2077" r="5.5"/></g>
<g id="ff103"><circle cx="192.7" cy="2097.3" r="5.5"/></g>
<g id="ff104"><circle cx="192.7" cy="2117.6" r="5.5"/></g>
<g id="ff105"><circle cx="192.7" cy="2137.8" r="5.5"/></g>
<g id="ff106"><circle cx="192.7" cy="2158.1" r="5.5"/></g>
<g id="ff107"><circle cx="192.7" cy="2178.4" r="5.5"/></g>
<g id="ff108"><circle cx="192.7" cy="2198.6" r="5.5"/></g>
<g id="ff109"><circle cx="192.7" cy="2218.9" r="5.5"/></g>
<g id="ff110"><circle cx="192.7" cy="2239.2" r="5.5"/></g>
<g id="ff111"><circle cx="192.7" cy="2259.4" r="5.5"/></g>
<g id="ff112"><circle cx="192.7" cy="2279.7" r="5.5"/></g>
<g id="ff113"><circle cx="192.7" cy="2299.9" r="5.5"/></g>
<g id="ff114"><circle cx="192.7" cy="2320.2" r="5.5"/></g>
<g id="ff115"><circle cx="192.7" cy="2340.5" r="5.5"/></g>
<g id="ff116"><circle cx="192.7" cy="2360.7" r="5.5"/></g>
<g id="gg107"><circle cx="159.3" cy="2178.4" r="5.5"/></g>
<g id="gg108"><circle cx="159.3" cy="2198.6" r="5.5"/></g>
<g id="gg109"><circle cx="159.3" cy="2218.9" r="5.5"/></g>
<g id="gg110"><circle cx="159.3" cy="2239.2" r="5.5"/></g>
<g id="gg111"><circle cx="159.3" cy="2259.4" r="5.5"/></g>
<g id="gg112"><circle cx="159.3" cy="2279.7" r="5.5"/></g>
<g id="gg113"><circle cx="159.3" cy="2299.9" r="5.5"/></g>
<g id="gg114"><circle cx="159.3" cy="2320.2" r="5.5"/></g>
<g id="gg115"><circle cx="159.3" cy="2340.5" r="5.5"/></g>
<g id="gg116"><circle cx="159.3" cy="2360.7" r="5.5"/></g>
<g id="hh113"><circle cx="259.3" cy="2299.9" r="5.5"/></g>
<g id="hh114"><circle cx="259.3" cy="2320.2" r="5.5"/></g>
<g id="hh115"><circle cx="259.3" cy="2340.5" r="5.5"/></g>
<g id="hh116"><circle cx="259.3" cy="2360.7" r="5.5"/></g>
<g id="hh117"><circle cx="259.3" cy="2381" r="5.5"/></g>
<g id="hh118"><circle cx="259.3" cy="2401.3" r="5.5"/></g>
<g id="hh119"><circle cx="259.3" cy="2421.5" r="5.5"/></g>
<g id="hh120"><circle cx="259.3" cy="2441.8" r="5.5"/></g>
<g id="hh121"><circle cx="259.3" cy="2462.1" r="5.5"/></g>
<g id="hh122"><circle cx="259.3" cy="2482.3" r="5.5"/></g>
<g id="hh123"><circle cx="259.3" cy="2502.6" r="5.5"/></g>
<g id="hh124"><circle cx="259.3" cy="2522.9" r="5.5"/></g>
<g id="ii121"><circle cx="226" cy="2462.1" r="5.5"/></g>
<g id="ii122"><circle cx="226" cy="2482.3" r="5.5"/></g>
<g id="ii123"><circle cx="226" cy="2502.6" r="5.5"/></g>
<g id="ii124"><circle cx="226" cy="2522.9" r="5.5"/></g>
<g id="ii125"><circle cx="226" cy="2543.1" r="5.5"/></g>
<g id="ii126"><circle cx="226" cy="2563.4" r="5.5"/></g>
<g id="il127"><circle cx="210" cy="2583.7" r="5.5"/></g>
<g id="il128"><circle cx="210" cy="2603.9" r="5.5"/></g>
<g id="il129"><circle cx="210" cy="2624.2" r="5.5"/></g>
<g id="il130"><circle cx="210" cy="2644.5" r="5.5"/></g>
<g id="ir127"><circle cx="243.3" cy="2583.7" r="5.5"/></g>
<g id="ir128"><circle cx="243.3" cy="2603.9" r="5.5"/></g>
<g id="ir129"><circle cx="243.3" cy="2624.2" r="5.5"/></g>
<g id="ir130"><circle cx="243.3" cy="2644.5" r="5.5"/></g>
<g id="jj103"><circle cx="326" cy="2097.3" r="5.5"/></g>
<g id="jj104"><circle cx="326" cy="2117.6" r="5.5"/></g>
<g id="jj105"><circle cx="326" cy="2137.8" r="5.5"/></g>
<g id="jj106"><circle cx="326" cy="2158.1" r="5.5"/></g>
<g id="jj107"><circle cx="326" cy="2178.4" r="5.5"/></g>
<g id="jj108"><circle cx="326" cy="2198.6" r="5.5"/></g>
<g id="jj109"><circle cx="326" cy="2218.9" r="5.5"/></g>
<g id="jj110"><circle cx="326" cy="2239.2" r="5.5"/></g>
<g id="jj111"><circle cx="326" cy="2259.4" r="5.5"/></g>
<g id="jj112"><circle cx="326" cy="2279.7" r="5.5"/></g>
<g id="jj113"><circle cx="326" cy="2299.9" r="5.5"/></g>
<g id="jj114"><circle cx="326" cy="2320.2" r="5.5"/></g>
<g id="kk105"><circle cx="292.7" cy="2137.8" r="5.5"/></g>
<g id="kk106"><circle cx="292.7" cy="2158.1" r="5.5"/></g>
<g id="kk107"><circle cx="292.7" cy="2178.4" r="5.5"/></g>
<g id="kk108"><circle cx="292.7" cy="2198.6" r="5.5"/></g>
<g id="kk109"><circle cx="292.7" cy="2218.9" r="5.5"/></g>
<g id="kk110"><circle cx="292.7" cy="2239.2" r="5.5"/></g>
<g id="kk111"><circle cx="292.7" cy="2259.4" r="5.5"/></g>
<g id="kk112"><circle cx="292.7" cy="2279.7" r="5.5"/></g>
<g id="kk113"><circle cx="292.7" cy="2299.9" r="5.5"/></g>
<g id="kk114"><circle cx="292.7" cy="2320.2" r="5.5"/></g>
<g id="kk115"><circle cx="292.7" cy="2340.5" r="5.5"/></g>
<g id="kk116"><circle cx="292.7" cy="2360.7" r="5.5"/></g>
<g id="kk117"><circle cx="292.7" cy="2381" r="5.5"/></g>
<g id="kk118"><circle cx="292.7" cy="2401.3" r="5.5"/></g>
<g id="kk119"><circle cx="292.7" cy="2421.5" r="5.5"/></g>
<g id="kk120"><circle cx="292.7" cy="2441.8" r="5.5"/></g>
<g id="kk121"><circle cx="292.7" cy="2462.1" r="5.5"/></g>
<g id="kk122"><circle cx="292.7" cy="2482.3" r="5.5"/></g>
<g id="kk123"><circle cx="292.7" cy="2502.6" r="5.5"/></g>
<g id="kk124"><circle cx="292.7" cy="2522.9" r="5.5"/></g>
<g id="kl125"><circle cx="284.3" cy="2543.1" r="5.5"/></g>
<g id="kl126"><circle cx="284.3" cy="2563.4" r="5.5"/></g>
<g id="kl127"><circle cx="284.3" cy="2583.7" r="5.5"/></g>
<g id="kl128"><circle cx="284.3" cy="2603.9" r="5.5"/></g>
<g id="kl129"><circle cx="284.3" cy="2624.2" r="5.5"/></g>
<g id="kl130"><circle cx="284.3" cy="2644.5" r="5.5"/></g>
<g id="kr125"><circle cx="318.3" cy="2543.1" r="5.5"/></g>
<g id="kr126"><circle cx="318.3" cy="2563.4" r="5.5"/></g>
<g id="kll131"><circle cx="267.3" cy="2664.7" r="5.5"/></g>
<g id="kll132"><circle cx="267.3" cy="2685" r="5.5"/></g>
<g id="klr131"><circle cx="300.7" cy="2664.7" r="5.5"/></g>
<g id="klr132"><circle cx="300.7" cy="2685" r="5.5"/></g>
<g id="dl117"><circle cx="375.3" cy="2381" r="5.5"/></g>
<g id="dl118"><circle cx="375.3" cy="2401.3" r="5.5"/></g>
<g id="dl119"><circle cx="375.3" cy="2421.5" r="5.5"/></g>
<g id="dl120"><circle cx="375.3" cy="2441.8" r="5.5"/></g>
<g id="dr117"><circle cx="408.7" cy="2381" r="5.5"/></g>
<g id="dr118"><circle cx="408.7" cy="2401.3" r="5.5"/></g>
<g id="dr119"><circle cx="408.7" cy="2421.5" r="5.5"/></g>
<g id="dr120"><circle cx="408.7" cy="2441.8" r="5.5"/></g>
</g>
</svg>
